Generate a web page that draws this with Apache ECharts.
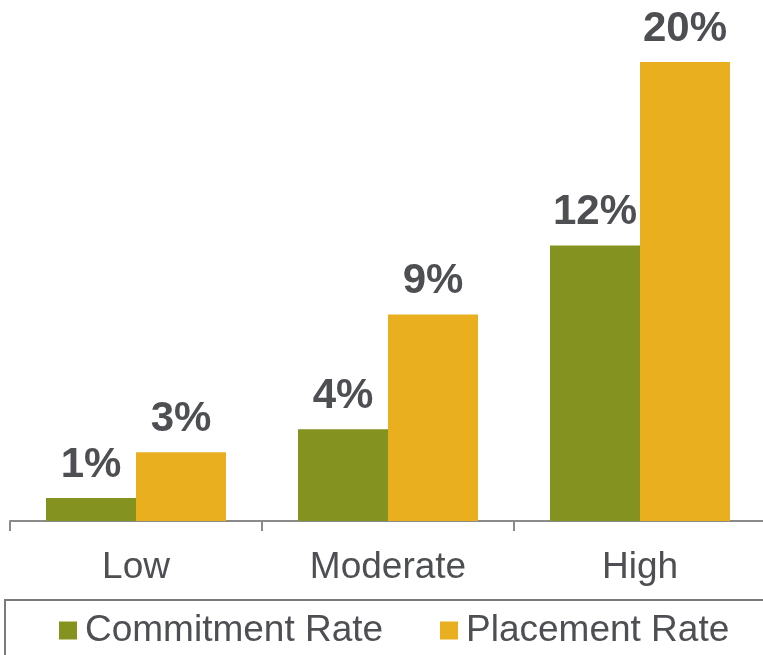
<!DOCTYPE html>
<html>
<head>
<meta charset="utf-8">
<style>
  html, body { margin: 0; padding: 0; background: #ffffff; }
  #chart { width: 763px; height: 655px; }
</style>
<script src="https://cdn.jsdelivr.net/npm/echarts@6/dist/echarts.min.js"></script>
</head>
<body>
<div id="chart"></div>
<script>
// Risk level groups and the two rates (percent) for each group
const categories = ['Low', 'Moderate', 'High'];
const commitmentRate = [1, 4, 12];
const placementRate = [3, 9, 20];
const seriesNames = ['Commitment Rate', 'Placement Rate'];

const GREEN = '#84921f';
const GOLD = '#e9af1f';
const TEXT = '#4d4f53';
const AXIS = '#8a8a8a';
const FONT = '"Liberation Sans", Arial, Helvetica, sans-serif';

const chart = echarts.init(document.getElementById('chart'), null, { renderer: 'canvas' });

const valueLabel = {
  show: true,
  position: 'top',
  distance: 12,
  formatter: p => p.value + '%',
  fontFamily: FONT,
  fontWeight: 'bold',
  fontSize: 42,
  color: TEXT
};

const legendText = {
  fontFamily: FONT,
  fontSize: 37,
  color: TEXT,
  padding: [0, 0, 0, 3]
};

chart.setOption({
  animation: false,
  backgroundColor: '#ffffff',
  grid: {
    left: 10, top: 62, width: 756, height: 459,
    containLabel: false,
    outerBoundsMode: 'none'
  },
  xAxis: {
    type: 'category',
    data: categories,
    axisLine: { show: true, lineStyle: { color: AXIS, width: 2 } },
    axisTick: { show: true, length: 10, lineStyle: { color: AXIS, width: 2 } },
    axisLabel: { fontFamily: FONT, fontSize: 37, color: TEXT, margin: 28 }
  },
  yAxis: {
    type: 'value',
    min: 0,
    max: 20,
    show: false,
    splitLine: { show: false }
  },
  legend: [
    {
      data: [seriesNames[0]],
      left: 59, top: 612, padding: 0,
      itemWidth: 18, itemHeight: 18,
      icon: 'rect',
      textStyle: legendText
    },
    {
      data: [seriesNames[1]],
      left: 440, top: 612, padding: 0,
      itemWidth: 18, itemHeight: 18,
      icon: 'rect',
      textStyle: legendText
    }
  ],
  graphic: [
    {
      type: 'rect',
      shape: { x: 5, y: 600, width: 820, height: 120 },
      style: { fill: 'none', stroke: '#7a7a7a', lineWidth: 2 },
      silent: true
    }
  ],
  series: [
    {
      name: seriesNames[0],
      type: 'bar',
      data: commitmentRate,
      barWidth: 90,
      barGap: '0%',
      itemStyle: { color: GREEN },
      label: valueLabel
    },
    {
      name: seriesNames[1],
      type: 'bar',
      data: placementRate,
      barWidth: 90,
      barGap: '0%',
      itemStyle: { color: GOLD },
      label: valueLabel
    }
  ]
});
</script>
</body>
</html>
